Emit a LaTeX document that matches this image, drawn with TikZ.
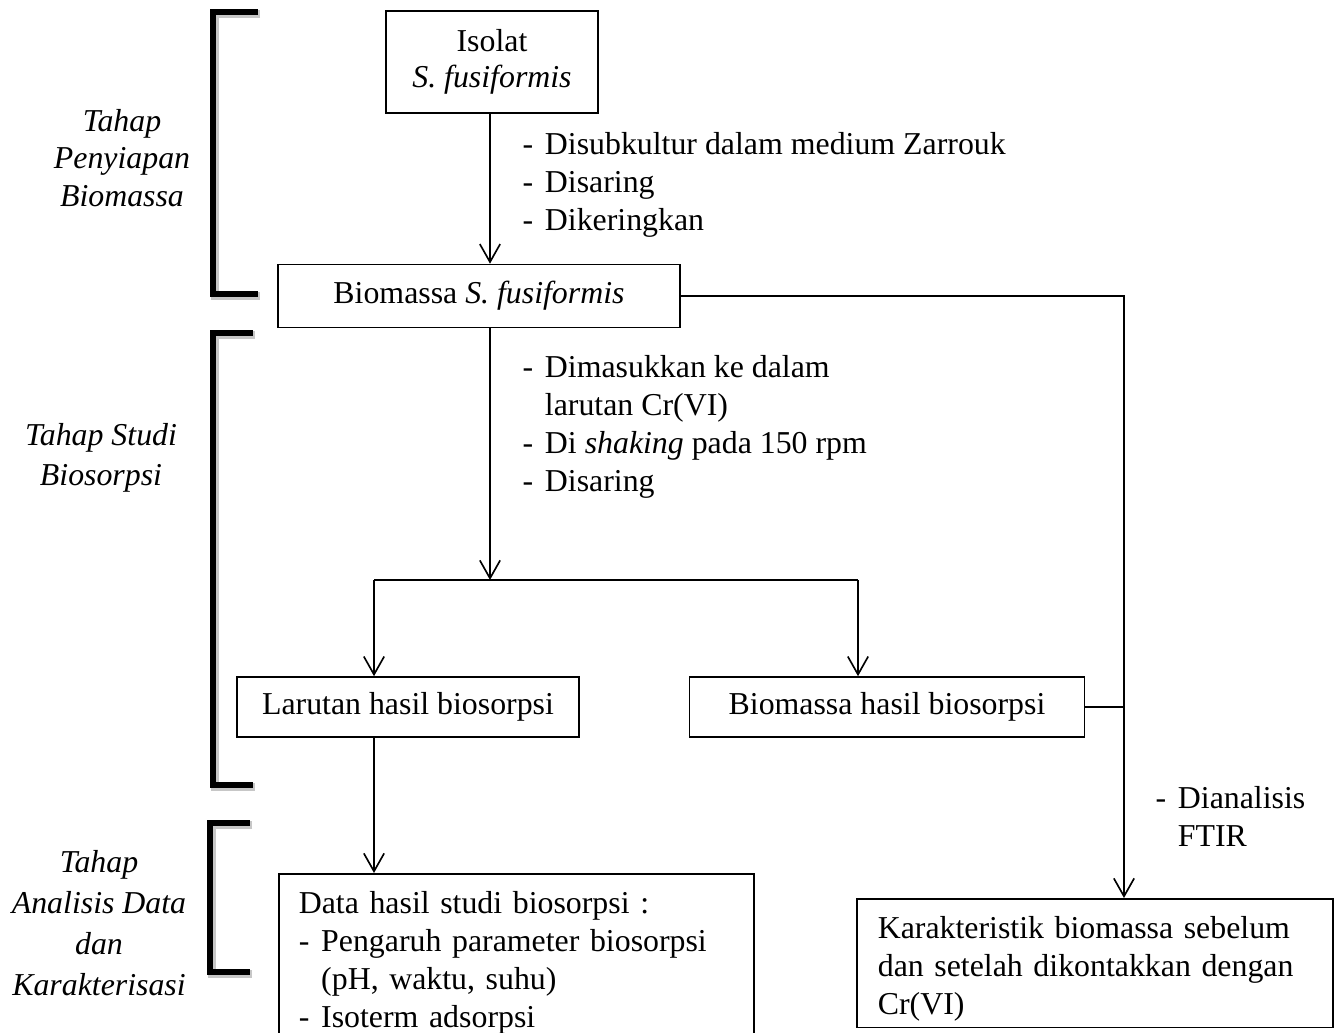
\documentclass[tikz,border=0pt]{standalone}
\usepackage{fontspec}
\setmainfont{Liberation Serif}
\usetikzlibrary{arrows.meta, positioning, calc}

\newcommand{\steplist}[1]{\begin{tabular}{@{}l@{\hspace{4.3pt}}l@{}}#1\end{tabular}}

\begin{document}
\begin{tikzpicture}[
    x=0.0128cm, y=-0.0128cm,
    font=\fontsize{11.6}{13.8}\selectfont,
    box/.style={rectangle, draw, line width=0.6pt, align=center, inner sep=0pt},
    textbox/.style={rectangle, draw, line width=0.6pt, anchor=north west, align=left},
    stage/.style={align=center, font=\fontsize{11.6}{13.8}\selectfont\itshape},
    steps/.style={anchor=west, inner sep=0pt},
    arrow/.style={-{Straight Barb[length=0.23cm, width=0.26cm]}, line width=0.6pt},
    link/.style={line width=0.6pt},
    bracket/.style={line width=2pt},
    bshadow/.style={line width=2.6pt, black!22, shift={(2,2)}}
]
\useasboundingbox (0,0) rectangle (1338,1033);

% Stage brackets
\foreach \ya/\yb/\xa/\xb in {12/294/213/258, 333/785/213/253, 823/972/210/250} {
  \draw[bshadow] (\xb,\ya) -- (\xa,\ya) -- (\xa,\yb) -- (\xb,\yb);
  \draw[bracket] (\xb,\ya) -- (\xa,\ya) -- (\xa,\yb) -- (\xb,\yb);
}

% Stage labels
\node[stage] (st1) at (122,158) {Tahap\\Penyiapan\\Biomassa};
\node[stage, font=\fontsize{11.6}{14.5}\selectfont\itshape] (st2) at (101,458) {Tahap Studi\\Biosorpsi};
\node[stage, font=\fontsize{11.6}{15}\selectfont\itshape] (st3) at (99,923) {Tahap\\Analisis Data\\dan\\Karakterisasi};

% Boxes
\node[box, minimum width=2.714cm, minimum height=1.306cm, font=\fontsize{11.6}{13.1}\selectfont] (iso) at (492,62) {Isolat\\\textit{S. fusiformis}};
\node[box, minimum width=5.146cm, minimum height=0.806cm] (bio) at (479,296) {Biomassa \textit{S. fusiformis}};
\node[box, minimum width=4.378cm, minimum height=0.768cm] (lar) at (408,707) {Larutan hasil biosorpsi};
\node[box, minimum width=5.056cm, minimum height=0.768cm] (bh) at (887,707) {Biomassa hasil biosorpsi};
\node[textbox, text width=5.568cm, inner xsep=0.256cm, inner ysep=0.173cm] (data) at (278,873)
  {\steplist{\multicolumn{2}{@{}l@{}}{Data hasil studi biosorpsi :}\\
   - & Pengaruh parameter biosorpsi\\
     & (pH, waktu, suhu)\\
   - & Isoterm adsorpsi}};
\node[textbox, text width=5.555cm, inner xsep=0.269cm, inner ysep=0.02cm] (kar) at (856,898)
  {\begin{tabular}{@{}l@{}}\rule{0pt}{14pt}Karakteristik biomassa sebelum\\
   dan setelah dikontakkan dengan\\
   Cr(VI)\end{tabular}};

% Step labels
\node[steps] (lbl1) at (522,185) {\steplist{- & Disubkultur dalam medium Zarrouk\\ - & Disaring\\ - & Dikeringkan}};
\node[steps] (lbl2) at (522,427) {\steplist{- & Dimasukkan ke dalam\\ & larutan Cr(VI)\\ - & Di \textit{shaking} pada 150 rpm\\ - & Disaring}};
\node[steps] (lbl3) at (1155,820) {\steplist{- & Dianalisis\\ & FTIR}};

% Connectors
\coordinate (split) at (490,580);
\coordinate (jl) at (374,580);
\coordinate (jr) at (858,580);
\coordinate (rline) at (1124,296);

\draw[arrow] (iso.south -| split) -- (bio.north -| split);
\draw[arrow] (bio.south -| split) -- (split);
\draw[link] (jl) -- (jr);
\draw[arrow] (jl) -- (lar.north -| jl);
\draw[arrow] (jr) -- (bh.north -| jr);
\draw[arrow] (lar.south -| jl) -- (data.north -| jl);
\draw[arrow] (bio.east) -- (rline) -- (kar.north -| rline);
\draw[link] (bh.east) -- (bh.east -| rline);

\end{tikzpicture}
\end{document}
